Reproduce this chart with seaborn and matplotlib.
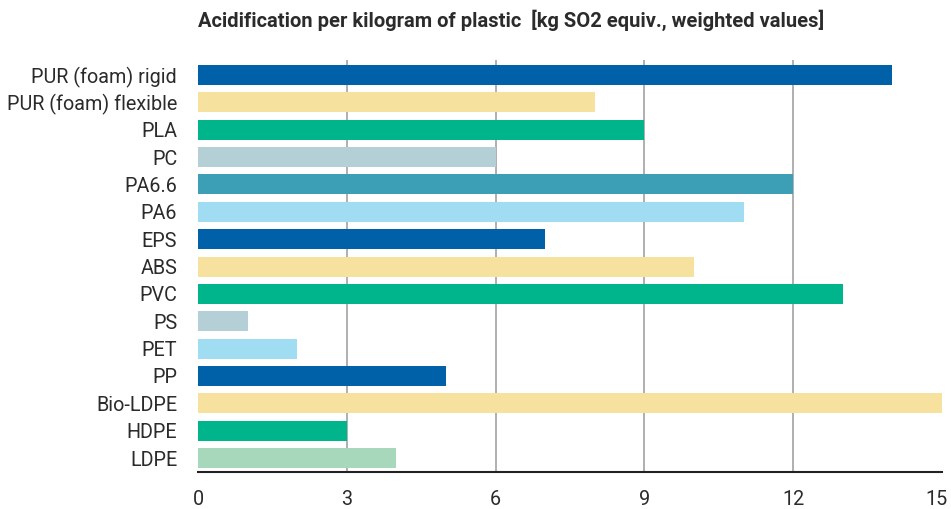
import numpy as np
import pandas as pd
import matplotlib.pyplot as plt
import matplotlib.transforms as mtransforms
import seaborn as sns

sns.set_style("white")
plt.rcParams['font.family'] = ['Roboto', 'DejaVu Sans']

# data, top to bottom as in the chart
plastics = ['PUR (foam) rigid', 'PUR (foam) flexible', 'PLA', 'PC', 'PA6.6', 'PA6',
            'EPS', 'ABS', 'PVC', 'PS', 'PET', 'PP', 'Bio-LDPE', 'HDPE', 'LDPE']
acidification = [14, 8, 9, 6, 12, 11, 7, 10, 13, 1, 2, 5, 15, 3, 4]
bar_colors = ['#0060a8', '#f7e19f', '#00b48c', '#b4cfd6', '#3d9fb5', '#a0dcf2',
              '#0060a8', '#f7e19f', '#00b48c', '#b4cfd6', '#a0dcf2',
              '#0060a8', '#f7e19f', '#00b48c', '#a8d8bc']
xticks = [0, 3, 6, 9, 12, 15]

df = pd.DataFrame({'plastic': plastics, 'value': acidification})

fig = plt.figure(figsize=(9.51, 5.09), dpi=100)
ax = fig.add_axes([0.2082, 0.0727, 0.7823, 0.8093])

sns.barplot(data=df, x='value', y='plastic', hue='plastic', palette=bar_colors,
            orient='h', width=0.73, legend=False, saturation=1, ax=ax, zorder=3,
            linewidth=0)

ax.set_xlim(0, 15)
ax.set_ylim(14.51, -0.548)
ax.set_xticks(xticks)
ax.set_xticklabels([str(t) for t in xticks])
ax.set_xlabel('')
ax.set_ylabel('')

# vertical grid only at interior ticks
for t in xticks[1:-1]:
    ax.axvline(t, color='#9a9a9a', lw=1.1, zorder=1)

for s in ['top', 'right', 'left']:
    ax.spines[s].set_visible(False)
ax.spines['bottom'].set_color('#222222')
ax.spines['bottom'].set_linewidth(1.5)
ax.spines['bottom'].set_zorder(4)

ax.tick_params(axis='y', length=0, pad=15, labelsize=14.2, labelcolor='#2b2b2b')
ax.tick_params(axis='x', length=0, pad=13, labelsize=14.2, labelcolor='#2b2b2b')

# nudge the last x label inward so it stays inside the figure
last = ax.get_xticklabels()[-1]
last.set_transform(last.get_transform() +
                   mtransforms.ScaledTranslation(-5 / 100, 0, fig.dpi_scale_trans))

fig.text(0.2082, 0.96, 'Acidification per kilogram of plastic  [kg SO2 equiv., weighted values]',
         fontsize=14.5, fontweight='bold', color='#2b2b2b', ha='left', va='center')

fig.savefig('out.png', dpi=100)
